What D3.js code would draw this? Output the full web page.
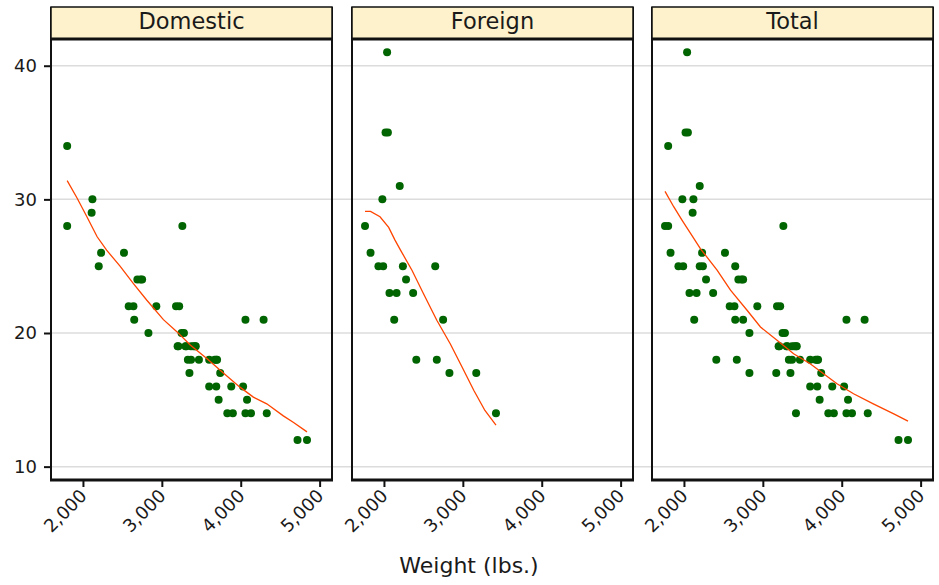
<!DOCTYPE html>
<html>
<head>
<meta charset="utf-8">
<script src="https://cdn.jsdelivr.net/npm/d3@7"></script>
<style>
  body { margin: 0; background: #fff; }
  text { font-family: 'DejaVu Sans', sans-serif; fill: #1a1a1a; }
</style>
</head>
<body>
<div id="chart"></div>
<script>
// auto data: weight (lbs.) and mileage (mpg)
const domesticWeight = [2930, 3350, 2640, 3250, 4080, 3670, 2230, 3280, 3880, 3400, 4330, 3900, 4290, 2110, 3690, 3180, 3220, 2750, 3430, 2120, 3600, 3600, 3740, 1800, 2650, 4840, 4720, 3830, 2580, 4060, 3720, 3370, 4130, 2830, 4060, 3310, 3300, 3690, 3370, 2730, 4030, 3260, 1800, 2200, 2520, 3330, 3700, 3470, 3210, 3200, 3420, 2690]
const domesticMpg = [22, 17, 22, 20, 15, 18, 26, 20, 16, 19, 14, 14, 21, 29, 16, 22, 22, 24, 19, 30, 18, 16, 17, 28, 21, 12, 12, 14, 22, 14, 15, 18, 14, 20, 21, 19, 19, 18, 19, 24, 16, 28, 34, 25, 26, 18, 18, 18, 19, 19, 19, 24]
const foreignWeight = [2830, 2070, 2650, 2370, 2020, 2280, 2750, 2130, 2240, 1760, 1980, 3420, 1830, 2050, 2410, 2200, 2670, 2160, 2040, 1930, 1990, 3170]
const foreignMpg = [17, 23, 25, 23, 35, 24, 21, 21, 25, 28, 30, 14, 26, 35, 18, 31, 18, 23, 41, 25, 25, 17]

// smoothed (lowess) lines
const domesticSmoothWeight = [1800, 1925, 2050, 2180, 2300, 2470, 2640, 2810, 3020, 3190, 3360, 3570, 3780, 3990, 4160, 4330, 4540, 4670, 4840]
const domesticSmoothMpg = [31.4, 30.1, 28.7, 27.2, 26.2, 25.0, 23.7, 22.45, 21.0, 20.1, 19.1, 18.1, 17.0, 15.95, 15.2, 14.7, 13.8, 13.3, 12.6]
const foreignSmoothWeight = [1760, 1830, 1950, 2060, 2140, 2210, 2355, 2500, 2670, 2840, 2990, 3140, 3280, 3420]
const foreignSmoothMpg = [29.1, 29.1, 28.7, 27.9, 26.95, 26.2, 24.7, 22.95, 20.95, 19.2, 17.45, 15.7, 14.2, 13.1]
const totalSmoothWeight = [1760, 1870, 1975, 2100, 2210, 2420, 2590, 2800, 2970, 3180, 3390, 3600, 3770, 3940, 4150, 4400, 4660, 4840]
const totalSmoothMpg = [30.6, 29.45, 28.45, 27.3, 26.3, 24.7, 23.2, 21.7, 20.45, 19.45, 18.45, 17.7, 16.95, 16.2, 15.45, 14.7, 13.95, 13.4]

const panelNames = ['Domestic', 'Foreign', 'Total']
const xTicks = [2000, 3000, 4000, 5000]
const yTicks = [10, 20, 30, 40]

const width = 939
const height = 585
const panelLefts = [51, 352, 652]
const panelWidth = 281
const stripTop = 7
const plotTop = 39
const plotBottom = 480

const zip = (a, b) => a.map((v, i) => [v, b[i]])

const panels = [
  { name: panelNames[0], points: zip(domesticWeight, domesticMpg), smooth: zip(domesticSmoothWeight, domesticSmoothMpg) },
  { name: panelNames[1], points: zip(foreignWeight, foreignMpg), smooth: zip(foreignSmoothWeight, foreignSmoothMpg) },
  {
    name: panelNames[2],
    points: zip(domesticWeight.concat(foreignWeight), domesticMpg.concat(foreignMpg)),
    smooth: zip(totalSmoothWeight, totalSmoothMpg)
  }
]

const svg = d3
  .select('#chart')
  .append('svg')
  .attr('width', width)
  .attr('height', height)

const xPositionScale = d3.scaleLinear().domain([1595, 5157]).range([0, panelWidth])
const yPositionScale = d3.scaleLinear().domain([9, 42]).range([plotBottom, plotTop])

// gridlines run across all panels
svg
  .selectAll('.grid')
  .data(yTicks)
  .enter()
  .append('line')
  .attr('class', 'grid')
  .attr('x1', panelLefts[0])
  .attr('x2', panelLefts[2] + panelWidth)
  .attr('y1', d => yPositionScale(d))
  .attr('y2', d => yPositionScale(d))
  .attr('stroke', '#dcdcdc')
  .attr('stroke-width', 1.5)

const line = d3
  .line()
  .x(d => xPositionScale(d[0]))
  .y(d => yPositionScale(d[1]))

panels.forEach((panel, i) => {
  const g = svg.append('g').attr('transform', 'translate(' + panelLefts[i] + ',0)')

  g.selectAll('circle')
    .data(panel.points)
    .enter()
    .append('circle')
    .attr('cx', d => xPositionScale(d[0]))
    .attr('cy', d => yPositionScale(d[1]))
    .attr('r', 4)
    .attr('fill', '#006400')

  g.append('path')
    .datum(panel.smooth)
    .attr('d', line)
    .attr('fill', 'none')
    .attr('stroke', '#ff4500')
    .attr('stroke-width', 1.3)

  // frame
  g.append('line').attr('x1', 0).attr('x2', 0).attr('y1', stripTop).attr('y2', plotBottom + 1)
    .attr('stroke', '#111').attr('stroke-width', 2)
  g.append('line').attr('x1', panelWidth).attr('x2', panelWidth).attr('y1', stripTop).attr('y2', plotBottom + 1)
    .attr('stroke', '#111').attr('stroke-width', 2)

  const xAxis = d3.axisBottom(xPositionScale).tickValues(xTicks).tickSize(7).tickFormat(d3.format(','))
  const axisG = g.append('g')
    .attr('class', 'axis x-axis')
    .attr('transform', 'translate(0,' + plotBottom + ')')
    .call(xAxis)
  axisG.select('.domain').remove()
  axisG.selectAll('line').attr('stroke', '#111').attr('stroke-width', 2)
  axisG.selectAll('text')
    .attr('font-size', 18)
    .attr('text-anchor', 'end')
    .attr('y', 0)
    .attr('dy', 0)
    .attr('transform', 'translate(4.5,17) rotate(-45)')

  g.append('line').attr('x1', -1).attr('x2', panelWidth + 1).attr('y1', plotBottom).attr('y2', plotBottom)
    .attr('stroke', '#111').attr('stroke-width', 3)

  // strip
  g.append('rect')
    .attr('x', 0)
    .attr('y', stripTop)
    .attr('width', panelWidth)
    .attr('height', plotTop - stripTop)
    .attr('fill', '#fdf2cb')
    .attr('stroke', '#111')
    .attr('stroke-width', 1.5)
  g.append('line').attr('x1', -1).attr('x2', panelWidth + 1).attr('y1', plotTop).attr('y2', plotTop)
    .attr('stroke', '#111').attr('stroke-width', 3)
  g.append('text')
    .attr('x', panelWidth / 2)
    .attr('y', 29)
    .attr('text-anchor', 'middle')
    .attr('font-size', 22.5)
    .text(panel.name)
})

const yAxis = d3.axisLeft(yPositionScale).tickValues(yTicks).tickSize(7).tickPadding(7)
const yAxisG = svg
  .append('g')
  .attr('class', 'axis y-axis')
  .attr('transform', 'translate(' + panelLefts[0] + ',0)')
  .call(yAxis)
yAxisG.select('.domain').remove()
yAxisG.selectAll('line').attr('stroke', '#111').attr('stroke-width', 2)
yAxisG.selectAll('text').attr('font-size', 18)

svg
  .append('text')
  .attr('x', 469)
  .attr('y', 573)
  .attr('text-anchor', 'middle')
  .attr('font-size', 22)
  .text('Weight (lbs.)')
</script>
</body>
</html>
